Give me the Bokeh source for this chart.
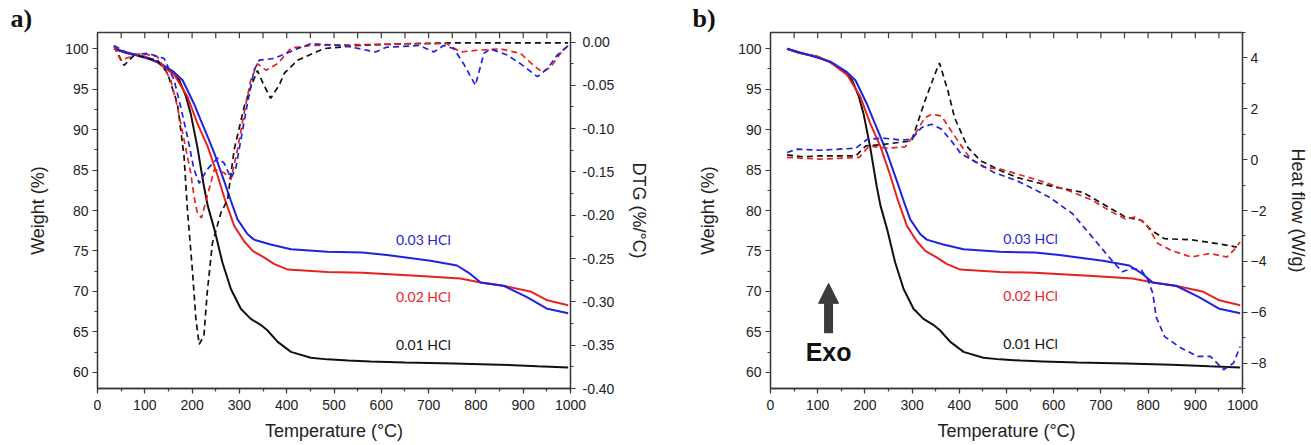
from bokeh.plotting import figure
from bokeh.models import (Range1d, LinearAxis, SingleIntervalTicker, FixedTicker, Label,
                          Arrow, NormalHead, NumeralTickFormatter)
from bokeh.layouts import row
from bokeh.embed import file_html
from bokeh.resources import INLINE

# ---------------- data ----------------
# TGA (weight %) - identical in both panels
tg_k_T = [35, 60, 100, 127, 155, 173, 187, 197, 211, 225, 233, 247, 264, 282, 303, 324, 345, 359, 381, 409, 451, 486, 530, 577, 650, 753, 850, 930, 995]
tg_k_w = [100.0, 99.5, 99.0, 98.3, 97.3, 96.1, 94.1, 92.0, 87.9, 83.0, 80.6, 77.7, 73.6, 70.3, 67.85, 66.6, 65.87, 65.2, 63.76, 62.53, 61.8, 61.6, 61.45, 61.35, 61.2, 61.1, 60.95, 60.75, 60.6]

tg_r_T = [35, 60, 100, 127, 162, 190, 211, 233, 254, 268, 289, 310, 328, 352, 373, 402, 486, 560, 683, 767, 810, 866, 915, 951, 995]
tg_r_w = [100.0, 99.5, 99.0, 98.3, 96.8, 94.1, 90.8, 87.9, 84.3, 81.6, 78.1, 76.2, 75.0, 74.2, 73.4, 72.7, 72.4, 72.3, 71.9, 71.6, 71.1, 70.6, 70.0, 68.9, 68.3]

tg_b_T = [35, 70, 127, 162, 180, 190, 204, 218, 233, 247, 268, 282, 296, 317, 331, 366, 409, 486, 560, 612, 704, 760, 785, 810, 859, 908, 951, 995]
tg_b_w = [100.0, 99.4, 98.4, 97.1, 96.1, 94.9, 93.2, 91.2, 89.1, 87.1, 83.6, 81.2, 78.9, 77.1, 76.4, 75.8, 75.2, 74.9, 74.8, 74.5, 73.8, 73.2, 72.3, 71.1, 70.7, 69.3, 67.85, 67.3]

# DTG (%/°C) - panel a
dtg_k_T = [35, 56, 78, 127, 148, 169, 183, 190, 201, 208, 215, 225, 232, 243, 261, 275, 289, 310, 324, 338, 352, 366, 384, 395, 423, 479, 550, 650, 750, 850, 950, 995]
dtg_k_d = [-0.005, -0.027, -0.015, -0.021, -0.036, -0.071, -0.132, -0.193, -0.266, -0.32, -0.349, -0.339, -0.289, -0.232, -0.197, -0.182, -0.124, -0.075, -0.052, -0.033, -0.05, -0.065, -0.05, -0.036, -0.021, -0.0076, -0.004, -0.002, -0.001, -0.001, -0.001, -0.001]

dtg_r_T = [35, 49, 92, 127, 155, 169, 183, 197, 204, 211, 220, 232, 247, 268, 282, 296, 310, 324, 338, 356, 381, 409, 451, 550, 650, 739, 767, 803, 852, 894, 922, 940, 958, 979, 995]
dtg_r_d = [-0.005, -0.021, -0.013, -0.017, -0.044, -0.075, -0.113, -0.151, -0.178, -0.197, -0.203, -0.178, -0.147, -0.151, -0.159, -0.124, -0.082, -0.044, -0.025, -0.0325, -0.025, -0.007, -0.004, -0.003, -0.002, -0.002, -0.0115, -0.0095, -0.008, -0.013, -0.027, -0.0345, -0.029, -0.013, -0.004]

dtg_b_T = [35, 70, 106, 141, 162, 176, 190, 204, 215, 232, 254, 268, 282, 292, 303, 317, 331, 342, 373, 423, 451, 520, 588, 611, 680, 711, 732, 753, 774, 799, 817, 831, 866, 894, 930, 951, 972, 995]
dtg_b_d = [-0.004, -0.015, -0.013, -0.019, -0.044, -0.075, -0.109, -0.147, -0.163, -0.147, -0.134, -0.14, -0.157, -0.147, -0.113, -0.071, -0.0325, -0.021, -0.019, -0.0076, -0.002, -0.004, -0.0115, -0.006, -0.004, -0.0115, -0.004, -0.0076, -0.025, -0.05, -0.013, -0.008, -0.015, -0.025, -0.040, -0.031, -0.015, -0.004]

# Heat flow (W/g) - panel b
hf_k_T = [35, 70, 104, 181, 202, 240, 299, 327, 348, 358, 376, 390, 418, 445, 487, 522, 605, 661, 710, 752, 786, 807, 835, 891, 946, 988]
hf_k_h = [0.19, 0.11, 0.15, 0.15, 0.54, 0.6, 0.74, 2.3, 3.35, 3.8, 2.7, 1.65, 0.48, -0.04, -0.43, -0.70, -1.09, -1.28, -1.8, -2.26, -2.39, -2.78, -3.11, -3.15, -3.30, -3.44]

hf_r_T = [35, 104, 188, 209, 244, 285, 306, 327, 341, 362, 383, 397, 424, 452, 487, 522, 571, 640, 682, 724, 752, 772, 793, 821, 849, 891, 932, 967, 981, 995]
hf_r_h = [0.09, 0.02, 0.09, 0.54, 0.45, 0.5, 1.0, 1.65, 1.78, 1.72, 1.13, 0.74, 0.02, -0.3, -0.37, -0.56, -0.83, -1.28, -1.6, -2.07, -2.33, -2.26, -2.46, -3.3, -3.57, -3.83, -3.69, -3.83, -3.57, -3.24]

hf_b_T = [35, 56, 104, 181, 205, 237, 278, 299, 320, 341, 362, 383, 404, 431, 473, 522, 543, 591, 640, 682, 717, 745, 766, 786, 800, 810, 817, 835, 870, 905, 932, 960, 981, 995]
hf_b_h = [0.28, 0.41, 0.37, 0.45, 0.8, 0.85, 0.77, 0.8, 1.26, 1.39, 1.2, 0.74, 0.22, -0.04, -0.5, -0.83, -1.02, -1.48, -2.13, -3.05, -3.83, -4.41, -4.28, -4.35, -4.74, -5.26, -6.18, -6.96, -7.41, -7.74, -7.74, -8.26, -8.0, -7.35]

series_names = ["0.01 HCl", "0.02 HCl", "0.03 HCl"]
top_ticks = list(range(50, 1000, 50))

# ---------------- style ----------------
BLACK = "#111111"
RED = "#e8231f"
BLUE = "#1f22e0"
AX = "#3a3a3a"
FONT = "Liberation Sans"
LABEL_FONT = "Lato"
DASH = "6 4"


def style_axis(ax, ticker, label, label_standoff, tick_standoff):
    ax.ticker = ticker
    ax.major_tick_out = 5
    ax.major_tick_in = 0
    ax.minor_tick_out = 3
    ax.minor_tick_in = 0
    ax.axis_line_color = AX
    ax.axis_line_width = 1.3
    ax.major_tick_line_color = AX
    ax.minor_tick_line_color = AX
    ax.major_tick_line_width = 1.2
    ax.minor_tick_line_width = 1.2
    ax.major_label_text_font = FONT
    ax.major_label_text_font_size = "14px"
    ax.major_label_text_color = "#222222"
    ax.major_label_standoff = tick_standoff
    ax.axis_label = label
    ax.axis_label_text_font = FONT
    ax.axis_label_text_font_size = "18px"
    ax.axis_label_text_font_style = "normal"
    ax.axis_label_text_color = "#222222"
    ax.axis_label_standoff = label_standoff


def make_panel(width, border_left, border_right, border_bottom, left_standoff,
               right_name, right_range, right_ticker, right_label,
               right_tick_standoff, right_label_standoff, letter, letter_offset,
               right_formatter=None):
    p = figure(width=width, height=445, output_backend="svg", toolbar_location=None,
               x_range=Range1d(0, 1000), y_range=Range1d(58, 102),
               min_border_left=border_left, min_border_right=border_right,
               min_border_top=32, min_border_bottom=border_bottom)
    # panel letter as the figure title, pulled left over the axis area
    p.title.text = letter
    p.title.align = "left"
    p.title.offset = letter_offset
    p.title.standoff = 0
    p.title.vertical_align = "bottom"
    p.title.text_font = "Liberation Serif"
    p.title.text_font_style = "bold"
    p.title.text_font_size = "26px"
    p.title.text_color = "#111111"

    p.xgrid.visible = False
    p.ygrid.visible = False
    p.outline_line_color = AX
    p.outline_line_width = 1.3
    p.background_fill_color = "white"
    p.border_fill_color = "white"
    style_axis(p.xaxis[0], SingleIntervalTicker(interval=100, num_minor_ticks=2),
               "Temperature (°C)", 8, 6)
    style_axis(p.yaxis[0], SingleIntervalTicker(interval=5, num_minor_ticks=2),
               "Weight (%)", left_standoff, 4)

    p.extra_y_ranges = {right_name: right_range, "frac": Range1d(0, 1)}
    rax = LinearAxis(y_range_name=right_name)
    style_axis(rax, right_ticker, right_label, right_label_standoff, right_tick_standoff)
    if right_formatter is not None:
        rax.formatter = right_formatter
    p.add_layout(rax, "right")

    # inward mirror ticks along the top frame edge
    p.segment(x0=top_ticks, y0=[1.0] * len(top_ticks), x1=top_ticks,
              y1=[0.984] * len(top_ticks), y_range_name="frac",
              line_color=AX, line_width=1.2)

    # TG curves
    p.line(tg_k_T, tg_k_w, line_color=BLACK, line_width=2)
    p.line(tg_r_T, tg_r_w, line_color=RED, line_width=2)
    p.line(tg_b_T, tg_b_w, line_color=BLUE, line_width=2)
    return p


def add_series_labels(p, xpos, ypos_list):
    colors = [BLACK, RED, BLUE]
    for name, c, yy in zip(series_names, colors, ypos_list):
        p.add_layout(Label(x=xpos, y=yy, text=name, text_align="center",
                           text_baseline="middle", text_font=LABEL_FONT,
                           text_font_size="14px", text_color=c))


# ---------------- panel a ----------------
dtg_ticks = [round(-0.40 + 0.05 * i, 2) for i in range(9)]
dtg_minor = [round(-0.40 + 0.025 * i, 3) for i in range(17)]
pa = make_panel(665, 97, 95, 55, 14, "dtg", Range1d(-0.40, 0.011),
                FixedTicker(ticks=dtg_ticks, minor_ticks=dtg_minor), "DTG (%/°C)",
                7, 12, "a)", -87, NumeralTickFormatter(format="0.00"))
pa.line(dtg_k_T, dtg_k_d, y_range_name="dtg", line_color=BLACK, line_width=1.7, line_dash=DASH)
pa.line(dtg_r_T, dtg_r_d, y_range_name="dtg", line_color=RED, line_width=1.7, line_dash=DASH)
pa.line(dtg_b_T, dtg_b_d, y_range_name="dtg", line_color=BLUE, line_width=1.7, line_dash=DASH)
add_series_labels(pa, 689, [63.45, 69.33, 76.45])

# ---------------- panel b ----------------
pb = make_panel(646, 105, 61, 57, 17, "hf", Range1d(-9, 5),
                SingleIntervalTicker(interval=2, num_minor_ticks=2), "Heat flow (W/g)",
                3, 19, "b)", -78)
pb.line(hf_k_T, hf_k_h, y_range_name="hf", line_color=BLACK, line_width=1.7, line_dash=DASH)
pb.line(hf_r_T, hf_r_h, y_range_name="hf", line_color=RED, line_width=1.7, line_dash=DASH)
pb.line(hf_b_T, hf_b_h, y_range_name="hf", line_color=BLUE, line_width=1.7, line_dash=DASH)
add_series_labels(pb, 551, [63.57, 69.44, 76.59])

pb.add_layout(Arrow(x_start=123, y_start=64.84, x_end=123, y_end=71.0,
                    line_color="#3c3c3c", line_width=9,
                    end=NormalHead(size=20, fill_color="#3c3c3c", line_color="#3c3c3c",
                                   line_width=1)))
pb.add_layout(Label(x=123, y=62.5, text="Exo", text_align="center", text_baseline="middle",
                    text_font="Liberation Sans", text_font_style="bold",
                    text_font_size="25px", text_color="#111111"))

layout = row(pa, pb)
open("out.html", "w").write(file_html(layout, INLINE))
